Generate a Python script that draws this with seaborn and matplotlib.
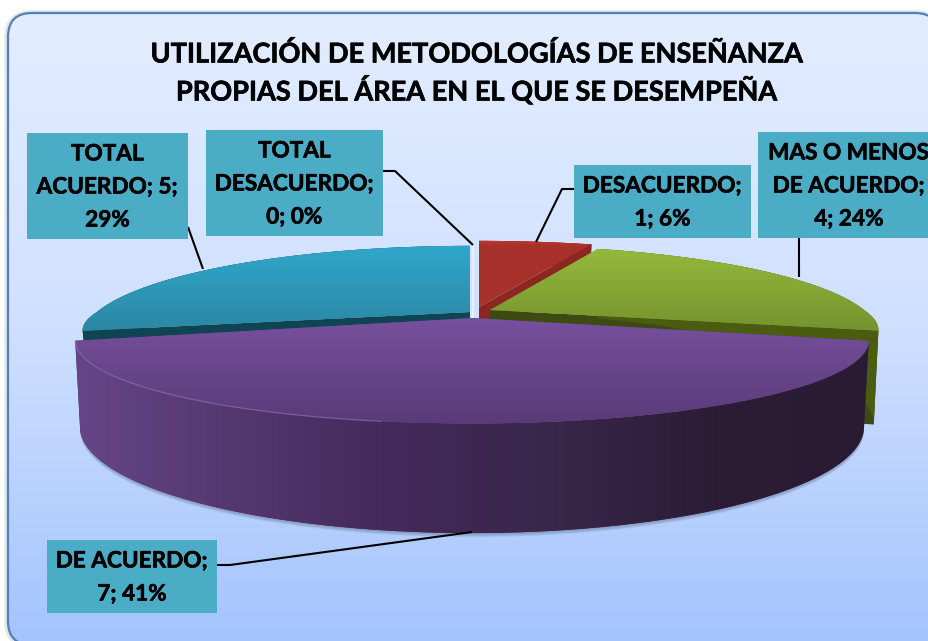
import numpy as np
import matplotlib
matplotlib.use("Agg")
import matplotlib.pyplot as plt
import matplotlib.patheffects as pe
import seaborn as sns
from matplotlib.patches import FancyBboxPatch, Polygon, Rectangle
from matplotlib.path import Path
from matplotlib.transforms import Transform

categories = ["TOTAL DESACUERDO", "DESACUERDO", "MAS O MENOS DE ACUERDO", "DE ACUERDO", "TOTAL ACUERDO"]
counts = [0, 1, 4, 7, 5]
label_lines = ["TOTAL\nDESACUERDO;\n0; 0%", "DESACUERDO;\n1; 6%", "MAS O MENOS\nDE ACUERDO;\n4; 24%",
               "DE ACUERDO;\n7; 41%", "TOTAL\nACUERDO; 5;\n29%"]
title_text = "UTILIZACIÓN DE METODOLOGÍAS DE ENSEÑANZA\nPROPIAS DEL ÁREA EN EL QUE SE DESEMPEÑA"

sns.set_theme(style="white")
plt.rcParams["font.family"] = ["Lato", "DejaVu Sans"]


class Persp(Transform):
    """Tilted-disc projection of a unit pie wedge into pixel coordinates."""
    input_dims = output_dims = 2
    is_separable = False
    has_inverse = False

    def __init__(self, cx, cy, rx, ry, fz=1.0, drop=80, k=0.27, shrink=0.988):
        super().__init__()
        self.cx, self.cy, self.rx, self.ry, self.fz = cx, cy, rx, ry, fz
        self.drop, self.k, self.shrink = drop, k, shrink

    def transform_non_affine(self, values):
        v = np.asarray(values, float)
        x, z = v[:, 0], v[:, 1]
        s = 1 / (1 + self.k * z)
        return np.column_stack([self.cx + self.rx * x * s,
                                self.cy - self.ry * z * s * np.where(z < 0, self.fz, 1.0)])

    def transform_path_non_affine(self, path):
        t = np.linspace(0, 1, 40)
        pts = [np.atleast_2d(b(t)) for b, _ in path.iter_bezier()]
        return Path(self.transform_non_affine(np.vstack(pts)))

    def top(self, deg):
        a = np.radians(np.atleast_1d(deg))
        return self.transform_non_affine(np.column_stack([np.cos(a), np.sin(a)]))

    def low(self, deg):
        a = np.radians(np.atleast_1d(deg))
        p = self.top(deg)
        s = 1 / (1 + self.k * np.sin(a))
        p[:, 0] = self.cx + (p[:, 0] - self.cx) * self.shrink
        p[:, 1] += self.drop * s
        return p

    def apex(self):
        return np.array([self.cx, self.cy])


fig = plt.figure(figsize=(9.29, 6.41), dpi=100, facecolor="white")
ax = fig.add_axes([0, 0, 1, 1])
wedges, _ = ax.pie(counts, startangle=90, counterclock=False, radius=1)


def lims():
    ax.set_aspect("auto")
    ax.set_xlim(0, 929)
    ax.set_ylim(641, 0)


def gradient(colors, extent, clip, z, horizontal=False):
    cmap = sns.blend_palette(colors, n_colors=256, as_cmap=True)
    g = np.linspace(0, 1, 256)
    g = g[None, :] if horizontal else g[:, None]
    im = ax.imshow(g, cmap=cmap, extent=extent, aspect="auto", zorder=z, origin="upper", interpolation="bilinear")
    im.set_clip_path(clip)
    return im


# panel (a nearly transparent face keeps the renderer from clipping the curved outline)
clear = (1, 1, 1, 0.004)
panel = FancyBboxPatch((8, 13), 931, 632, boxstyle="round,pad=0,rounding_size=24",
                       fc=clear, ec="#4F81BD", lw=1.6, zorder=2)
halo = FancyBboxPatch((6, 12), 935, 635, boxstyle="round,pad=0,rounding_size=26",
                      fc=clear, ec="#E4E4E4", lw=2.5, zorder=0.5)
ax.add_patch(halo)
ax.add_patch(panel)
gradient(["#E3EDFF", "#CFE0FF", "#A4C3FD"], (8, 939, 645, 13), panel, 1)

geo = {
    "TOTAL ACUERDO": Persp(470, 312, 373, 84, fz=0.76, drop=40),
    "DESACUERDO": Persp(479, 307, 390, 84, drop=30),
    "MAS O MENOS DE ACUERDO": Persp(490, 310, 374, 82, fz=0.85, drop=87),
    "DE ACUERDO": Persp(472, 318, 382, 77, drop=80),
    "TOTAL DESACUERDO": Persp(478, 310, 385, 84, drop=30),
}
top_cols = {
    "TOTAL ACUERDO": ["#30A8CC", "#2C86A4"],
    "DESACUERDO": ["#C83A30", "#A8302A"],
    "MAS O MENOS DE ACUERDO": ["#94BA3C", "#74922E"],
    "DE ACUERDO": ["#78519F", "#5A3A78"],
    "TOTAL DESACUERDO": ["#30A8CC", "#30A8CC"],
}
cut_cols = {"TOTAL ACUERDO": "#0F4452", "DESACUERDO": "#8C2620",
            "MAS O MENOS DE ACUERDO": "#3D4A12", "DE ACUERDO": "#2E1E3A", "TOTAL DESACUERDO": "#0F4452"}
order = ["TOTAL DESACUERDO", "TOTAL ACUERDO", "DESACUERDO", "MAS O MENOS DE ACUERDO", "DE ACUERDO"]

for rank, name in enumerate(order):
    i = categories.index(name)
    w, tr = wedges[i], geo[name]
    base = 10 + rank * 10
    w.set_transform(tr + ax.transData)
    w.set_facecolor(top_cols[name][1])
    w.set_edgecolor("none")
    w.set_zorder(base + 3)
    th = np.linspace(w.theta1, w.theta2, 200)
    arc_top, arc_low = tr.top(th), tr.low(th)
    # cut face
    cut_deg = w.theta2 if name == "TOTAL ACUERDO" else w.theta1
    ct, cl = tr.top(cut_deg)[0], tr.low(cut_deg)[0]
    a = tr.apex()
    al = a + np.array([0, tr.drop])
    if name != "DE ACUERDO":
        ax.add_patch(Polygon([a, ct, cl, al], closed=True, fc=cut_cols[name], ec="none", zorder=base + 1))
    wall = Polygon(np.vstack([arc_top, arc_low[::-1]]), closed=True, fc=cut_cols[name], ec="none", zorder=base + 2)
    ax.add_patch(wall)
    if name == "MAS O MENOS DE ACUERDO":
        wall.set_facecolor("#4A5C10")
    if name == "DE ACUERDO":
        for off in (1, 2, 3, 4):
            ax.add_patch(Polygon(arc_low + [0, off], closed=True, fc="#5E6E8C", ec="none",
                                 alpha=0.16, zorder=base + 1))
        wall.set_facecolor("#402A52")
        gradient(["#664689", "#54376F", "#44295A", "#38274A", "#2C1C36", "#2A1B34"],
                 (70, 875, 540, 330), wall, base + 2.5, horizontal=True)
        bright = (th > -255) & (th < -100)
        ax.plot(*arc_top[bright].T, color="#9274B4", lw=1.0, alpha=0.55, zorder=base + 6)
    # top face gradient
    ys = tr.top(th)[:, 1]
    gradient(top_cols[name], (60, 890, float(ys.max()) + 2, float(min(ys.min(), tr.cy)) - 2), w, base + 4)
    if name == "TOTAL ACUERDO":
        ax.plot([473, 473], [244, 318], color="#EEF4FF", lw=1.5, alpha=0.8, zorder=base + 5)

lims()

# data labels
boxes = {
    "TOTAL ACUERDO": (27, 133, 161, 106),
    "TOTAL DESACUERDO": (206, 130, 177, 106),
    "DESACUERDO": (574, 165, 177, 73),
    "MAS O MENOS DE ACUERDO": (758, 132, 182, 106),
    "DE ACUERDO": (47, 540, 170, 73),
}
leaders = {
    "TOTAL ACUERDO": ([188, 203], [227, 269]),
    "TOTAL DESACUERDO": ([383, 395, 473], [171, 171, 245]),
    "DESACUERDO": ([574, 562, 536], [189, 189, 242]),
    "MAS O MENOS DE ACUERDO": ([799, 799], [238, 277]),
    "DE ACUERDO": ([217, 230, 472], [565, 565, 532]),
}
heavier = [pe.withStroke(linewidth=0.45, foreground="black")]
for name, lab in zip(categories, label_lines):
    x, y, bw, bh = boxes[name]
    ax.add_patch(Rectangle((x, y), bw, bh, fc="#4BACC6", ec="none", zorder=90))
    ax.plot(*leaders[name], color="black", lw=1.5, zorder=85, solid_capstyle="butt")
    ax.text(x + bw / 2, y + bh / 2 + 1, lab, ha="center", va="center", multialignment="center",
            fontsize=16.25, fontweight="bold", color="black", linespacing=1.71, zorder=95,
            path_effects=heavier)

ax.text(475.5, 73, title_text, ha="center", va="center", multialignment="center",
        fontsize=19.55, fontweight="bold", color="black", linespacing=1.39, zorder=95,
        path_effects=heavier)

lims()
ax.axis("off")
fig.savefig("out.png", dpi=100, facecolor="white")
